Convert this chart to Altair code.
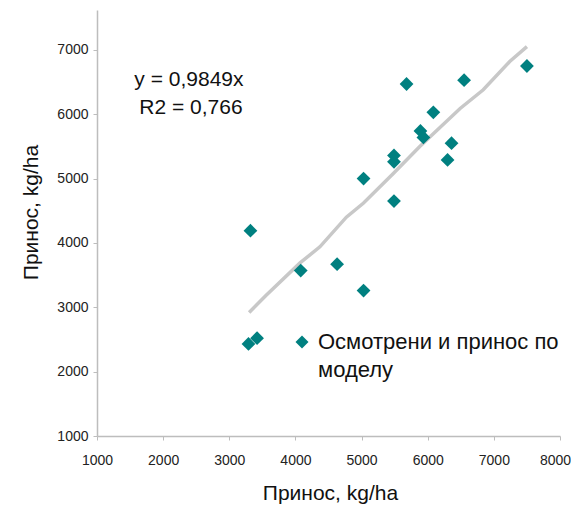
import altair as alt
import pandas as pd

# Observed vs. model yield (kg/ha)
obs_x = [7500, 6550, 5680, 6085, 5890, 5935, 6360, 5490, 5490, 6300,
         5030, 5490, 3320, 4080, 4630, 5030, 3290, 3420]
obs_y = [6750, 6530, 6470, 6030, 5740, 5640, 5550, 5360, 5260, 5290,
         5000, 4650, 4190, 3570, 3670, 3260, 2430, 2520]

# Trend line as drawn in the picture
trend_x = [3300, 3550, 4070, 4370, 4770, 5030, 5480, 5880, 6490, 6840, 7240, 7500]
trend_y = [2920, 3180, 3690, 3940, 4400, 4620, 5080, 5500, 6090, 6380, 6820, 7050]

x_ticks = [1000, 2000, 3000, 4000, 5000, 6000, 7000, 8000]
y_ticks = [1000, 2000, 3000, 4000, 5000, 6000, 7000]

eq_lines = ["y = 0,9849x", "R2 = 0,766"]
eq_x = [2390, 2420]
eq_y = [6530, 6090]

legend_lines = ["Осмотрени и принос по", "моделу"]

FONT = "Liberation Sans"
TEAL = "#008080"

pts = pd.DataFrame({"x": obs_x, "y": obs_y})
trend = pd.DataFrame({"x": trend_x, "y": trend_y, "i": list(range(len(trend_x)))})
eq = pd.DataFrame({"x": eq_x, "y": eq_y, "t": eq_lines})

xscale = alt.Scale(domain=[1000, 8000], nice=False, zero=False)
yscale = alt.Scale(domain=[1000, 7620], nice=False, zero=False)

xaxis = alt.Axis(values=x_ticks, title="Принос, kg/ha", format="d", labelFlush=False,
                 labelOffset={"condition": {"test": "datum.value == 8000", "value": -5},
                              "value": 0},
                 titleX=233, titleY=57, titleAlign="center", titleBaseline="middle")
yaxis = alt.Axis(values=y_ticks, title="Принос, kg/ha", format="d", labelFlush=False,
                 titleX=-66, titleY=202, titleAngle=270, titleAlign="center",
                 titleBaseline="middle")

line = alt.Chart(trend).mark_line(color="#c8c8c8", strokeWidth=3.5).encode(
    x=alt.X("x:Q", scale=xscale, axis=xaxis),
    y=alt.Y("y:Q", scale=yscale, axis=yaxis),
    order="i:Q",
)

points = alt.Chart(pts).mark_point(shape="diamond", filled=True, size=190,
                                   color=TEAL, opacity=1).encode(
    x=alt.X("x:Q", scale=xscale),
    y=alt.Y("y:Q", scale=yscale),
)

eq_text = alt.Chart(eq).mark_text(font=FONT, fontSize=21, color="#111",
                                  align="center", baseline="middle").encode(
    x=alt.X("x:Q", scale=xscale),
    y=alt.Y("y:Q", scale=yscale),
    text="t:N",
)

leg_df = pd.DataFrame({"k": [0]})
leg_sym = alt.Chart(leg_df).mark_point(shape="diamond", filled=True, size=170,
                                       color=TEAL, opacity=1).encode(
    x=alt.value(205), y=alt.value(332))
leg_t1 = alt.Chart(leg_df).mark_text(font=FONT, fontSize=22, color="#111",
                                     align="left", baseline="middle",
                                     text=legend_lines[0]).encode(
    x=alt.value(221), y=alt.value(332))
leg_t2 = alt.Chart(leg_df).mark_text(font=FONT, fontSize=22, color="#111",
                                     align="left", baseline="middle",
                                     text=legend_lines[1]).encode(
    x=alt.value(221), y=alt.value(360))

chart = alt.layer(line, points, eq_text, leg_sym, leg_t1, leg_t2).properties(
    width=463, height=426,
    autosize=alt.AutoSizeParams(type="none"),
    padding={"left": 89, "top": 2, "right": 11, "bottom": 68},
).configure_view(stroke=None).configure_axis(
    grid=False,
    domainColor="#bdbdbd", domainWidth=1.5,
    tickColor="#bdbdbd", tickSize=4,
    labelFont=FONT, labelFontSize=14, labelColor="#222",
    titleFont=FONT, titleFontSize=21, titleColor="#111", titleFontWeight="normal",
).configure_axisX(labelPadding=13).configure_axisY(labelPadding=5)

chart.save("out.html", embed_options={"renderer": "svg", "actions": False})
